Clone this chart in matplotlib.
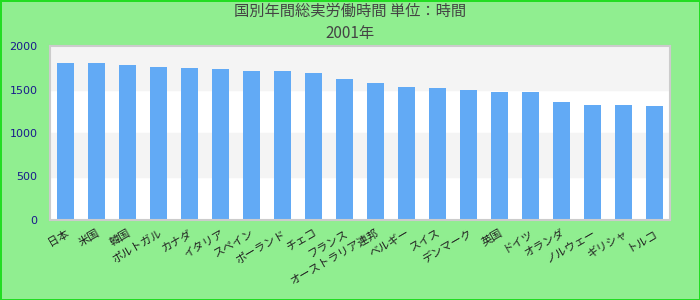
import matplotlib
matplotlib.use('Agg')
import matplotlib.pyplot as plt

plt.rcParams['font.family'] = ['Noto Sans CJK JP', 'DejaVu Sans']

title = '国別年間総実労働時間 単位：時間\n2001年'
countries = ['日本', '米国', '韓国', 'ポルトガル', 'カナダ', 'イタリア', 'スペイン',
             'ポーランド', 'チェコ', 'フランス', 'オーストラリア連邦', 'ベルギー', 'スイス',
             'デンマーク', '英国', 'ドイツ', 'オランダ', 'ノルウェー', 'ギリシャ', 'トルコ']
hours = [1800, 1800, 1776, 1764, 1752, 1741, 1718, 1707, 1695, 1615,
         1569, 1523, 1512, 1489, 1466, 1466, 1352, 1317, 1317, 1306]
yticks = [0, 500, 1000, 1500, 2000]

fig = plt.figure(figsize=(7, 3), dpi=100, facecolor='#90ee90',
                 edgecolor='#22dd22', linewidth=2)
ax = fig.add_axes([50/700, 80/300, 620/700, 174/300])
ax.set_facecolor('white')

# alternating bands
for i in range(len(yticks) - 1):
    if i % 2 == 1:
        ax.axhspan(yticks[i], yticks[i+1], color='#f4f4f4', zorder=0)

x = range(len(countries))
ax.bar(x, hours, width=0.55, color='#62aaf5', zorder=2)

ax.set_xlim(-0.5, len(countries) - 0.5)
ax.set_ylim(0, 2000)
ax.set_yticks(yticks)
ax.set_yticklabels([str(v) for v in yticks], color='#1a1a8c', fontsize=8,
                   family='DejaVu Sans')
ax.set_xticks(list(x))
ax.set_xticklabels(countries, rotation=30, ha='right', rotation_mode='anchor',
                   fontsize=8, color='#222222')
ax.tick_params(axis='both', length=0)
ax.tick_params(axis='y', pad=9)
ax.tick_params(axis='x', pad=6)
for s in ax.spines.values():
    s.set_color('#cccccc')
    s.set_linewidth(1.5)

fig.suptitle(title, y=0.99, fontsize=11, color='#444444', linespacing=1.4)

fig.savefig('out.png', dpi=100, facecolor=fig.get_facecolor(),
            edgecolor=fig.get_edgecolor())
